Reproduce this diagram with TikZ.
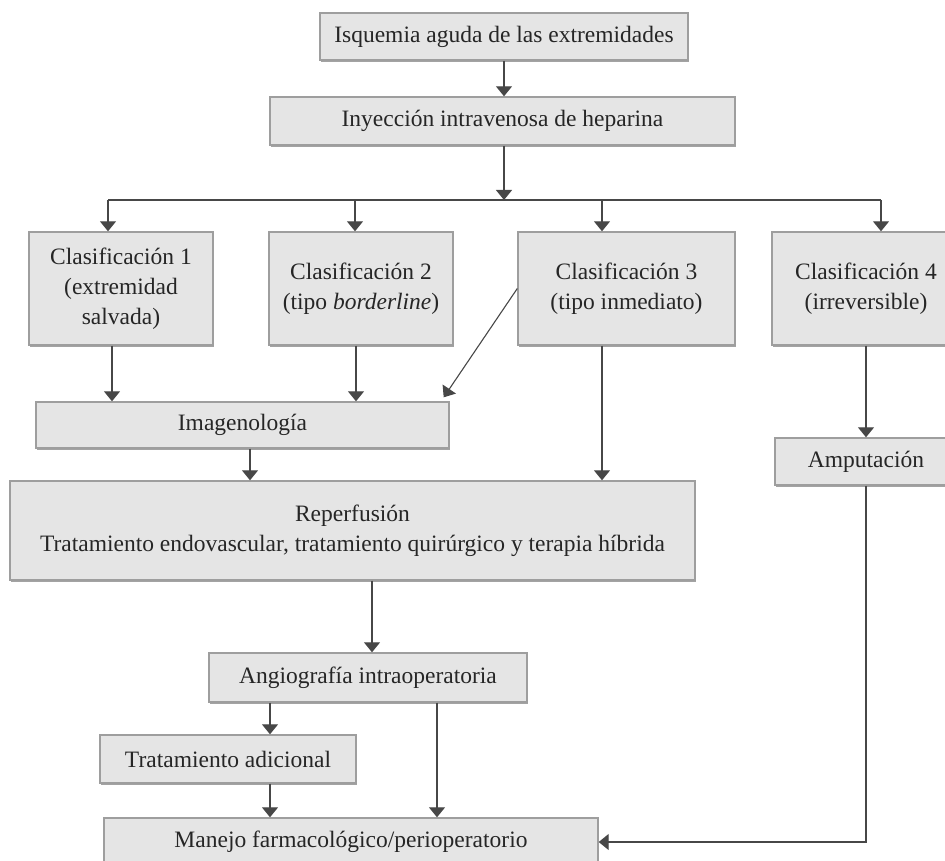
\documentclass[tikz,border=0pt]{standalone}
\usepackage{fontspec}
\setmainfont{Liberation Serif}
\usetikzlibrary{arrows.meta,shadows}

\tikzset{
  box/.style={rectangle, draw=black!38, line width=1.4pt, fill=black!10,
    text=black!85, align=center, inner sep=0pt,
    font=\fontsize{23.5}{30}\selectfont,
    drop shadow={shadow xshift=0.8pt, shadow yshift=-1.6pt, fill=black!45, opacity=0.8}},
  arr/.style={draw=black!72, line width=1.1pt,
    -{Triangle[width=16pt,length=10pt]}, color=black!72},
  link/.style={draw=black!72, line width=1.1pt}
}

\begin{document}
\begin{tikzpicture}[x=1pt,y=-1pt]
\useasboundingbox (0,0) rectangle (945,861);

% boxes
\node[box, minimum width=368pt, minimum height=47pt] (top) at (504,36.5) {Isquemia aguda de las extremidades};
\node[box, minimum width=465pt, minimum height=48pt] (hep) at (502.5,121) {Inyección intravenosa de heparina};

\node[box, minimum width=184pt, minimum height=113pt] (c1) at (121,288.5) {Clasificación 1\\(extremidad\\salvada)};
\node[box, minimum width=184pt, minimum height=113pt] (c2) at (361,288.5) {Clasificación 2\\(tipo \textit{borderline})};
\node[box, minimum width=217pt, minimum height=113pt] (c3) at (626.5,288.5) {Clasificación 3\\(tipo inmediato)};
\node[box, minimum width=188pt, minimum height=113pt] (c4) at (866,288.5) {Clasificación 4\\(irreversible)};

\node[box, minimum width=413pt, minimum height=46pt] (img) at (242.5,425) {Imagenología};
\node[box, minimum width=182pt, minimum height=47pt] (amp) at (866,461.5) {Amputación};
\node[box, minimum width=685pt, minimum height=99pt] (rep) at (352.5,530.5) {Reperfusión\\Tratamiento endovascular, tratamiento quirúrgico y terapia híbrida};
\node[box, minimum width=318pt, minimum height=49pt] (ang) at (368,677.5) {Angiografía intraoperatoria};
\node[box, minimum width=256pt, minimum height=48pt] (tra) at (228,759) {Tratamiento adicional};
\node[box, minimum width=494pt, minimum height=48pt] (man) at (351,842) {Manejo farmacológico/perioperatorio};

% distribution bar below the heparin box
\coordinate (bus) at (504,200);
\coordinate (j1) at (108,200);
\coordinate (j2) at (355,200);
\coordinate (j3) at (602,200);
\coordinate (j4) at (881,200);

\draw[arr] (top.south) -- (top.south |- hep.north);
\draw[arr] (hep.south -| bus) -- (bus);
\draw[link] (j1) -- (j4);
\draw[arr] (j1) -- (j1 |- c1.north);
\draw[arr] (j2) -- (j2 |- c2.north);
\draw[arr] (j3) -- (j3 |- c3.north);
\draw[arr] (j4) -- (j4 |- c4.north);

% classification branches
\draw[arr] ([xshift=-9pt]c1.south) -- ([xshift=-9pt]c1.south |- img.north);
\draw[arr] ([xshift=-5pt]c2.south) -- ([xshift=-5pt]c2.south |- img.north);
\draw[arr] (c3.west) -- ([xshift=-6pt,yshift=4pt]img.north east);
\draw[arr] ([xshift=-24.5pt]c3.south) -- ([xshift=-24.5pt]c3.south |- rep.north);
\draw[arr] (c4.south) -- (amp.north);

% treatment sequence
\draw[arr] ([xshift=7.5pt]img.south) -- ([xshift=7.5pt]img.south |- rep.north);
\draw[arr] ([xshift=19.5pt]rep.south) -- ([xshift=19.5pt]rep.south |- ang.north);
\draw[arr] ([xshift=-98pt]ang.south) -- ([xshift=-98pt]ang.south |- tra.north);
\draw[arr] ([xshift=69pt]ang.south) -- ([xshift=69pt]ang.south |- man.north);
\draw[arr] ([xshift=42pt]tra.south) -- ([xshift=42pt]tra.south |- man.north);
\draw[arr] (amp.south) |- (man.east);
\end{tikzpicture}
\end{document}
